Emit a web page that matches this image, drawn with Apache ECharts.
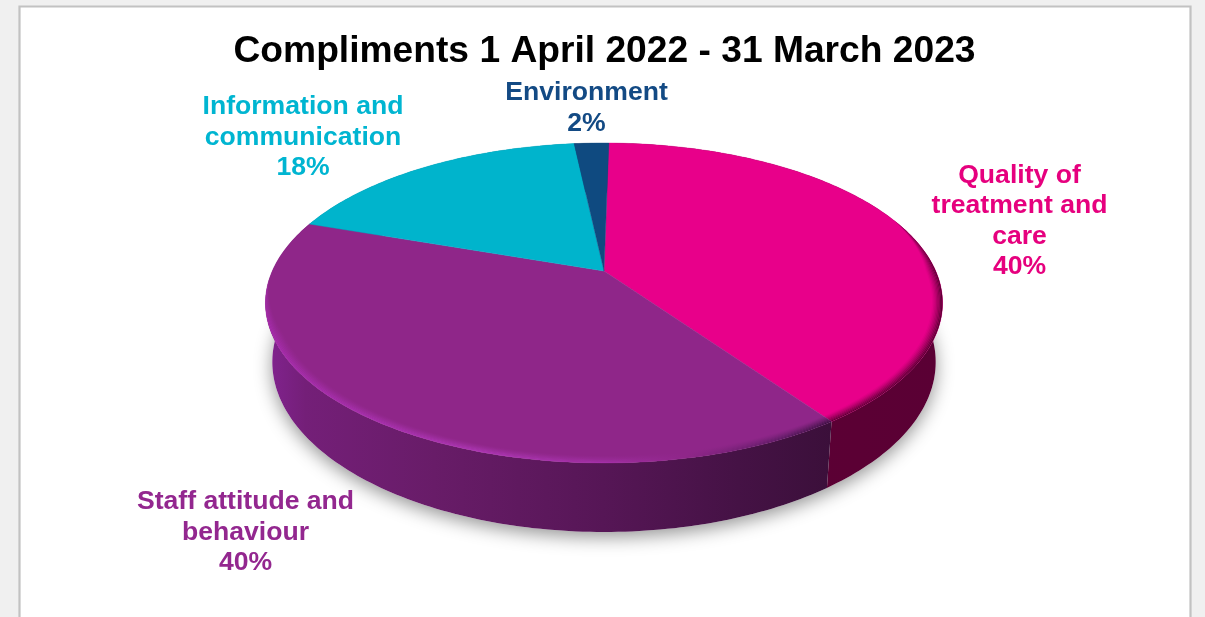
<!DOCTYPE html>
<html>
<head>
<meta charset="utf-8">
<style>
  html, body { margin: 0; padding: 0; background: #f0f0f0; }
  #chart { width: 1205px; height: 617px; }
</style>
<script src="https://cdn.jsdelivr.net/npm/echarts@6/dist/echarts.min.js"></script>
</head>
<body>
<div id="chart"></div>
<script>
// Compliments by theme, percentage of the year's total
const chartTitle = 'Compliments 1 April 2022 - 31 March 2023';
const categories = ['Quality of\ntreatment and\ncare', 'Staff attitude and\nbehaviour', 'Information and\ncommunication', 'Environment'];
const shares = [40, 40, 18, 2];

// Flat colours of the slice faces and their labels
const faceColors = ['#e8008a', '#8f2689', '#00b4cc', '#0f4a80'];
const labelColors = ['#e6007e', '#93278f', '#00b5d1', '#134a84'];
const labelAnchors = [[1019.5, 221], [245.5, 532.5], [303, 137.5], [586.5, 108]];

// Perspective disc: a unit circle projected so that its far half is foreshortened
const PERSPECTIVE = 0.2;
const TOP_DISC = { x: 604, y: 271, a: 331.7, b: 153.6 };
const BASE_DISC = { x: 604, y: 328, a: 325, b: 163.2 };
const START_ANGLE = 1;
const STEP = 1;

function project(disc, angle, radius) {
  const rad = angle * Math.PI / 180;
  const u = Math.sin(rad) * radius;
  const v = Math.cos(rad) * radius;
  const w = 1 + PERSPECTIVE * v;
  return [disc.x + disc.a * u / w, disc.y - disc.b * v / w];
}

function arcAngles(from, to) {
  const out = [];
  for (let a = from; a < to; a += STEP) out.push(a);
  out.push(to);
  return out;
}

const sideGradients = [
  [[0, '#5e0036'], [0.75, '#5c0034'], [1, '#5a0034']],
  [[0, '#822390'], [0.06, '#741f78'], [0.25, '#681c68'], [0.5, '#561656'], [0.7, '#451245'], [0.85, '#3a0f39'], [1, '#320f38']],
  [[0, '#00788a'], [1, '#00788a']],
  [[0, '#0a3052'], [1, '#0a3052']]
];
const rimGradients = [
  [[0, '#5c0034'], [1, '#5c0034']],
  [[0, '#a62cac'], [0.32, '#b038b8'], [0.5, '#a430a8'], [0.62, '#8f2689'], [0.76, '#5a1a62'], [0.83, '#3a1040'], [1, '#3a1040']],
  [[0, '#00b4cc'], [1, '#00b4cc']],
  [[0, '#0f4a80'], [1, '#0f4a80']]
];
// Height on the disc at which the rim starts to show, per slice
const rimStart = [0.35, -0.05, -1, -1];

function spanGradient(stops) {
  return new echarts.graphic.LinearGradient(265, 0, 942, 0,
    stops.map(s => ({ offset: s[0], color: s[1] })), true);
}

function sliceRows() {
  let running = 0;
  return shares.map(share => {
    const row = [share, running];
    running += share;
    return row;
  });
}

function sliceAngles(api) {
  const total = shares.reduce((s, v) => s + v, 0);
  const from = START_ANGLE + api.value(1) / total * 360;
  const to = from + api.value(0) / total * 360;
  return [from, to];
}

function renderShadow() {
  const pts = arcAngles(0, 360).map(a => project(BASE_DISC, a, 1));
  return {
    type: 'polygon',
    shape: { points: pts },
    style: { fill: '#ffffff', shadowBlur: 18, shadowColor: 'rgba(0,0,0,0.42)', shadowOffsetY: 5 }
  };
}

function renderWall(params, api) {
  const [from, to] = sliceAngles(api);
  const angles = arcAngles(from, to);
  const pts = angles.map(a => project(TOP_DISC, a, 1))
    .concat(angles.slice().reverse().map(a => project(BASE_DISC, a, 1)));
  return {
    type: 'polygon',
    shape: { points: pts },
    style: { fill: spanGradient(sideGradients[params.dataIndex]) }
  };
}

// Rim strips follow the near edge and taper out towards the far edge of the disc
function rimWidth(angle, start) {
  const v = Math.cos(angle * Math.PI / 180);
  return 0.03 * Math.max(0, Math.min(1, (start - v) / 0.35));
}

function renderFace(params, api) {
  const [from, to] = sliceAngles(api);
  const i = params.dataIndex;
  const angles = arcAngles(from, to);
  const children = [{
    type: 'polygon',
    shape: { points: [project(TOP_DISC, 0, 0)].concat(angles.map(a => project(TOP_DISC, a, 1))) },
    style: { fill: faceColors[i], stroke: faceColors[i], lineWidth: 0.4 }
  }];
  const strips = 8;
  const fill = spanGradient(rimGradients[i]);
  for (let s = 0; s < strips; s++) {
    const outer = angles.map(a => project(TOP_DISC, a, 1 - rimWidth(a, rimStart[i]) * s / strips));
    const inner = angles.slice().reverse().map(a => project(TOP_DISC, a, 1 - rimWidth(a, rimStart[i]) * (s + 1) / strips));
    children.push({
      type: 'polygon',
      shape: { points: outer.concat(inner) },
      style: { fill: fill, opacity: Math.pow(1 - s / strips, 1.4) }
    });
  }
  return { type: 'group', children };
}

function renderLabel(params, api) {
  const i = params.dataIndex;
  return {
    type: 'text',
    style: {
      text: categories[i] + '\n' + api.value(0) + '%',
      x: labelAnchors[i][0],
      y: labelAnchors[i][1],
      align: 'center',
      verticalAlign: 'middle',
      fill: labelColors[i],
      font: 'bold 26.6px "Liberation Sans", Arial, sans-serif',
      lineHeight: 30.4
    }
  };
}

const chart = echarts.init(document.getElementById('chart'), null, { renderer: 'canvas' });
const rows = sliceRows();
const plain = { coordinateSystem: 'none', type: 'custom', silent: true, animation: false, data: rows };

chart.setOption({
  backgroundColor: '#f0f0f0',
  animation: false,
  title: {
    text: chartTitle,
    left: 599.5,
    top: 28,
    textAlign: 'center',
    textStyle: { fontFamily: '"Liberation Sans", Arial, sans-serif', fontWeight: 'bold', fontSize: 37.2, color: '#000000' }
  },
  graphic: [{
    type: 'rect',
    z: -1,
    shape: { x: 19.5, y: 6.5, width: 1171, height: 640 },
    style: { fill: '#ffffff', stroke: '#c2c2c2', lineWidth: 2.2 }
  }],
  series: [
    Object.assign({}, plain, { name: 'shadow', data: [[100, 0]], renderItem: renderShadow, z: 1 }),
    Object.assign({}, plain, { name: 'sides', renderItem: renderWall, z: 2 }),
    Object.assign({}, plain, { name: 'faces', renderItem: renderFace, z: 3 }),
    Object.assign({}, plain, { name: 'labels', renderItem: renderLabel, z: 4 })
  ]
});
</script>
</body>
</html>
